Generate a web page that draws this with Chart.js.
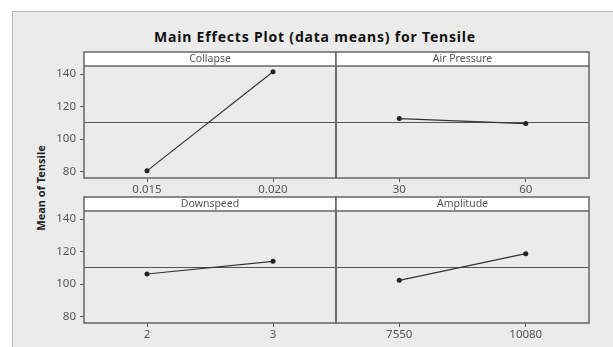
<!DOCTYPE html>
<html>
<head>
<meta charset="utf-8">
<script src="https://cdn.jsdelivr.net/npm/chart.js@4/dist/chart.umd.min.js"></script>
<style>
  html, body { margin: 0; padding: 0; background: #fff; overflow: hidden; }
  body { width: 613px; height: 347px; position: relative; font-family: "Noto Sans", sans-serif; }
  #frame { position: absolute; left: 12px; top: 11px; width: 640px; height: 360px;
           background: #ebebeb; border: 1px solid #bcbcbc; }
  #title { position: absolute; left: 65px; width: 500px; top: 28px; text-align: center;
           font-weight: bold; font-size: 14px; letter-spacing: 0.8px; color: #111; line-height: 18px; }
  #ylabel { position: absolute; left: 40px; top: 188px; transform: translate(-50%, -50%) rotate(-90deg);
            font-weight: bold; font-size: 11px; color: #222; white-space: nowrap; }
  canvas { position: absolute; }
</style>
</head>
<body>
<div id="frame"></div>
<div id="title">Main Effects Plot (data means) for Tensile</div>
<div id="ylabel">Mean of Tensile</div>
<canvas id="collapse" width="302" height="152" style="left:40px;top:50px"></canvas>
<canvas id="air" width="266" height="152" style="left:330px;top:50px"></canvas>
<canvas id="down" width="302" height="152" style="left:40px;top:195px"></canvas>
<canvas id="amp" width="266" height="152" style="left:330px;top:195px"></canvas>
<script>
const collapseLevels = ['0.015', '0.020'];
const collapseMeans = [80.4, 141.4];

const airLevels = ['30', '60'];
const airMeans = [112.6, 109.5];

const downLevels = ['2', '3'];
const downMeans = [106.2, 114.0];

const ampLevels = ['7550', '10080'];
const ampMeans = [102.3, 118.7];

const grandMean = 110.6;
const yTickValues = [80, 100, 120, 140];
const yMin = 76;
const yMax = 145;

const HEADER_H = 14;

// panel frame, header strip and the grand mean line
const panelPlugin = {
  id: 'panel',
  beforeDatasetsDraw(chart) {
    const { ctx, chartArea: a, scales } = chart;
    const y = Math.round(scales.y.getPixelForValue(grandMean)) + 0.5;
    ctx.save();
    ctx.strokeStyle = '#555';
    ctx.lineWidth = 1;
    ctx.beginPath();
    ctx.moveTo(a.left, y);
    ctx.lineTo(a.right, y);
    ctx.stroke();
    ctx.restore();
  },
  afterDraw(chart, args, opts) {
    const { ctx, chartArea: a } = chart;
    ctx.save();
    ctx.fillStyle = '#fff';
    ctx.fillRect(a.left, a.top - HEADER_H, a.right - a.left, HEADER_H);
    ctx.strokeStyle = '#666';
    ctx.lineWidth = 1.5;
    ctx.strokeRect(a.left, a.top - HEADER_H, a.right - a.left, a.bottom - a.top + HEADER_H);
    ctx.beginPath();
    ctx.moveTo(a.left, a.top);
    ctx.lineTo(a.right, a.top);
    ctx.stroke();
    ctx.fillStyle = '#555';
    ctx.font = '10.5px "Noto Sans"';
    ctx.textAlign = 'center';
    ctx.textBaseline = 'middle';
    ctx.fillText(opts.header, (a.left + a.right) / 2, a.top - HEADER_H / 2);
    ctx.restore();
  },
};

function makePanel(id, header, levels, means, showY) {
  const config = {
    type: 'line',
    data: {
      labels: levels,
      datasets: [
        {
          data: means,
          borderColor: '#333',
          borderWidth: 1.2,
          backgroundColor: '#222',
          pointRadius: 2.5,
          pointBorderWidth: 0,
          tension: 0,
        },
      ],
    },
    options: {
      responsive: false,
      animation: false,
      layout: { padding: { top: HEADER_H + 2, left: showY ? 0 : 6, right: showY ? 6 : 7, bottom: 0 } },
      plugins: {
        legend: { display: false },
        tooltip: { enabled: false },
        panel: { header: header },
      },
      scales: {
        x: {
          type: 'category',
          offset: true,
          border: { display: false },
          grid: { drawOnChartArea: false, drawTicks: true, tickLength: 4, color: '#555', offset: false },
          ticks: { color: '#555', font: { family: 'Noto Sans', size: 11.5 }, padding: 1, maxRotation: 0 },
          afterFit(scale) { scale.height = 24; },
        },
        y: {
          display: showY,
          min: yMin,
          max: yMax,
          border: { display: false },
          grid: { drawOnChartArea: false, drawTicks: true, tickLength: 4, color: '#555' },
          ticks: { color: '#555', font: { family: 'Noto Sans', size: 11.5 }, padding: 4 },
          afterBuildTicks(scale) { scale.ticks = yTickValues.map(v => ({ value: v })); },
          afterFit(scale) { scale.width = showY ? 44 : 0; },
        },
      },
    },
    plugins: [panelPlugin],
  };
  return new Chart(document.getElementById(id), config);
}

window.collapseChart = makePanel('collapse', 'Collapse', collapseLevels, collapseMeans, true);
window.airChart = makePanel('air', 'Air Pressure', airLevels, airMeans, false);
window.downChart = makePanel('down', 'Downspeed', downLevels, downMeans, true);
window.ampChart = makePanel('amp', 'Amplitude', ampLevels, ampMeans, false);
</script>
</body>
</html>
